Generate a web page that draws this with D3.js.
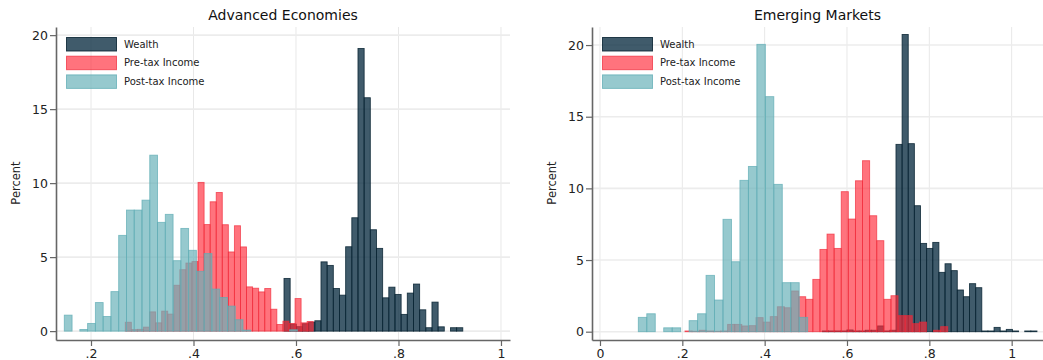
<!DOCTYPE html>
<html>
<head>
<meta charset="utf-8">
<script src="https://cdn.jsdelivr.net/npm/d3@7"></script>
<style>
  body { margin: 0; background: #fff; }
  svg { display: block; font-family: "DejaVu Sans", sans-serif; }
</style>
</head>
<body>
<svg id="chart" width="1043" height="360"></svg>
<script>
// histogram bins: start of first bin, bin width, percent per bin
const seriesNames = ['Wealth', 'Pre-tax Income', 'Post-tax Income'];

// Advanced Economies
const advWealthStart = 0.5766, advWealthWidth = 0.01203;
const advWealth = [3.56, 0.47, 0.3, 0.5, 0.6, 0.7, 4.68, 4.44, 2.88, 2.43, 5.7, 7.66, 19.1, 15.77, 6.85,
  5.59, 2.25, 2.97, 2.48, 1.13, 2.57, 3.18, 1.44, 0.23, 1.96, 0.29, 0, 0.23, 0.23];
const advPreStart = 0.2669, advPreWidth = 0.01183;
const advPre = [0.6, 0.1, 0.12, 0.27, 1.3, 0.56, 1.35, 1.15, 3.1, 4.15, 4.6, 4.7, 10.05, 7.2, 8.74, 9.37,
  7.19, 5.35, 7.12, 5.69, 2.99, 2.9, 2.65, 2.88, 1.48, 0.45, 0.67, 0.52, 2.2, 0.56, 0.65];
const advPostStart = 0.1479, advPostWidth = 0.01516;
const advPost = [1.08, 0, 0.11, 0.52, 1.93, 0.99, 2.67, 6.47, 8.18, 8.18, 8.85, 11.89, 7.35, 7.89, 4.76,
  6.94, 5.46, 4.04, 5.24, 2.84, 2.27, 1.69, 0.77, 0.07, 0, 0, 0, 0, 0, 0.09];

// Emerging Markets
const emWealthStart = 0.5403, emWealthWidth = 0.01489;
const emWealth = [0.05, 0.05, 0.05, 0.05, 0.12, 0.05, 0.05, 0.1, 0.1, 0.4, 0.05, 0.1,
  13.07, 20.74, 13.12, 8.79, 6.16, 5.81, 6.23, 4.14, 4.74, 4.26, 2.91, 2.44, 3.35, 3.07,
  0.05, 0.05, 0.3, 0.05, 0.16, 0.05, 0, 0.05, 0.05];
const emPreStart = 0.2065, emPreWidth = 0.01725;
const emPre = [0.05, 0.03, 0.1, 0.05, 0.03, 0.05, 0.51, 0.51, 0.4, 0.42, 0.98, 0.67, 1.05, 1.74, 1.67, 2.84,
  2.44, 2.26, 3.65, 5.74, 6.81, 5.81, 9.77, 7.86, 10.53, 11.93, 8.09, 6.35, 2.26, 2.51,
  1.12, 1.12, 0.56, 0.67, 0, 0.1, 0.35];
const emPostStart = 0.0931, emPostWidth = 0.02057;
const emPost = [1.0, 1.25, 0, 0.27, 0.27, 0, 0.77, 1.25, 3.93, 2.21, 7.84, 4.88, 10.56, 11.53, 20.05,
  16.4, 10.28, 3.42, 3.42, 1.0];

const yTicks = [0, 5, 10, 15, 20];
const advXTicks = [0.2, 0.4, 0.6, 0.8, 1];
const emXTicks = [0, 0.2, 0.4, 0.6, 0.8, 1];

const styles = [
  { fill: 'rgb(10,45,65)', fillOp: 0.78, stroke: 'rgb(8,35,50)', strokeOp: 0.85 },
  { fill: 'rgb(255,40,55)', fillOp: 0.65, stroke: 'rgb(240,40,55)', strokeOp: 0.7 },
  { fill: 'rgb(105,178,185)', fillOp: 0.7, stroke: 'rgb(95,172,180)', strokeOp: 0.75 }
];

const fmt = d => d === 0 ? '0' : d === 1 ? '1' : String(d).replace(/^0/, '');

const svg = d3.select('#chart');

function panel(opt) {
  const g = svg.append('g');
  const x = d3.scaleLinear().domain(opt.xDomain).range([opt.left, opt.right]);
  const y = d3.scaleLinear().domain(opt.yDomain).range([340, 27]);

  // grid
  g.selectAll('.vg').data(opt.xTicks).join('line')
    .attr('x1', d => x(d)).attr('x2', d => x(d))
    .attr('y1', 27).attr('y2', 340)
    .attr('stroke', '#e8e8e8').attr('stroke-width', 1);
  g.selectAll('.hg').data(yTicks).join('line')
    .attr('x1', opt.left).attr('x2', opt.right)
    .attr('y1', d => y(d)).attr('y2', d => y(d))
    .attr('stroke', '#ececec').attr('stroke-width', 1.6);

  // bars
  opt.series.forEach((s, k) => {
    const st = styles[k];
    const bins = s.values.map((v, i) => ({ x0: s.start + i * s.width, x1: s.start + (i + 1) * s.width, v }))
      .filter(d => d.v > 0);
    g.append('g').selectAll('rect').data(bins).join('rect')
      .attr('x', d => x(d.x0))
      .attr('width', d => x(d.x1) - x(d.x0))
      .attr('y', d => y(d.v))
      .attr('height', d => y(0) - y(d.v))
      .attr('fill', st.fill).attr('fill-opacity', st.fillOp)
      .attr('stroke', st.stroke).attr('stroke-opacity', st.strokeOp)
      .attr('stroke-width', 0.9);
  });

  // axes
  const ax = g.append('g').attr('transform', 'translate(0,340)')
    .call(d3.axisBottom(x).tickValues(opt.xTicks).tickFormat(fmt).tickSize(6).tickSizeOuter(0));
  const ay = g.append('g').attr('transform', `translate(${opt.left},0)`)
    .call(d3.axisLeft(y).tickValues(yTicks).tickSize(6).tickSizeOuter(0));
  [ax, ay].forEach(a => {
    a.select('.domain').attr('stroke', '#666').attr('stroke-width', 1.6);
    a.selectAll('.tick line').attr('stroke', '#666').attr('stroke-width', 1.2);
    a.selectAll('.tick text').attr('font-size', 12.5).attr('fill', '#222')
      .attr('font-family', '"DejaVu Sans", sans-serif');
  });
  ax.selectAll('.tick text').attr('dy', '0.95em').attr('y', 6);
  ay.selectAll('.tick text').attr('x', -8);

  g.append('text').attr('x', (opt.left + opt.right) / 2).attr('y', 20)
    .attr('text-anchor', 'middle').attr('font-size', 14).attr('fill', '#111')
    .text(opt.title);
  g.append('text')
    .attr('transform', `translate(${opt.left - 36},${183}) rotate(-90)`)
    .attr('text-anchor', 'middle').attr('font-size', 11.5).attr('fill', '#222')
    .text('Percent');

  // legend
  const lg = g.append('g').attr('transform', `translate(${opt.left + 10},37)`);
  seriesNames.forEach((n, k) => {
    const st = styles[k];
    lg.append('rect').attr('x', 0.5).attr('y', k * 18.7 + 0.5).attr('width', 50).attr('height', 13.5)
      .attr('fill', st.fill).attr('fill-opacity', st.fillOp)
      .attr('stroke', st.stroke).attr('stroke-opacity', st.strokeOp);
    lg.append('text').attr('x', 58).attr('y', k * 18.7 + 7).attr('dy', '0.35em')
      .attr('font-size', 10).attr('fill', '#222').text(n);
  });
}

panel({
  title: 'Advanced Economies', left: 56, right: 510,
  xDomain: [0.1317, 1.0176], yDomain: [-0.6, 20.55], xTicks: advXTicks,
  series: [
    { start: advWealthStart, width: advWealthWidth, values: advWealth },
    { start: advPreStart, width: advPreWidth, values: advPre },
    { start: advPostStart, width: advPostWidth, values: advPost }
  ]
});

panel({
  title: 'Emerging Markets', left: 592, right: 1043,
  xDomain: [-0.0194, 1.0761], yDomain: [-0.58, 21.26], xTicks: emXTicks,
  series: [
    { start: emWealthStart, width: emWealthWidth, values: emWealth },
    { start: emPreStart, width: emPreWidth, values: emPre },
    { start: emPostStart, width: emPostWidth, values: emPost }
  ]
});
</script>
</body>
</html>
